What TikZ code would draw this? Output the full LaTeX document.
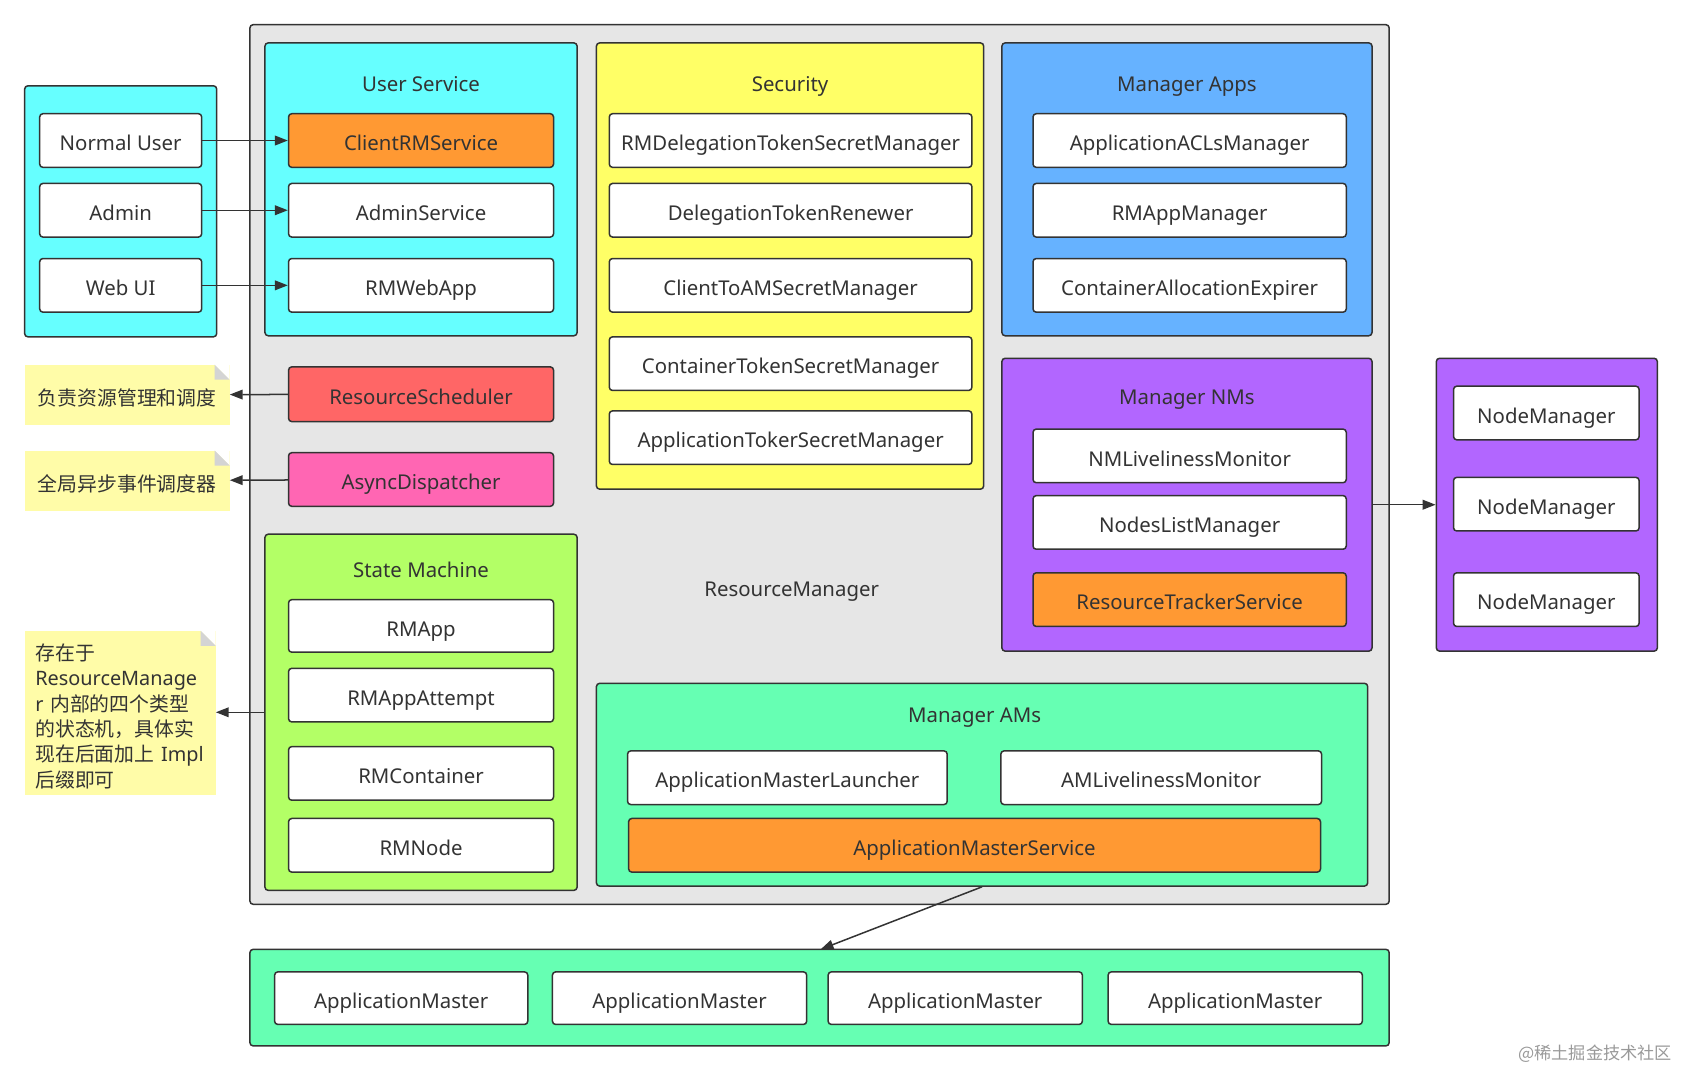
\documentclass[tikz,border=0pt]{standalone}
\usepackage{fontspec}
\setmainfont{Noto Sans}
\newfontfamily\cjk{Noto Sans CJK SC}
\usetikzlibrary{arrows.meta,calc}
\definecolor{rmgray}{HTML}{E6E6E6}
\definecolor{cyanf}{HTML}{66FFFF}
\definecolor{orangef}{HTML}{FF9933}
\definecolor{yellowf}{HTML}{FFFF66}
\definecolor{bluef}{HTML}{66B2FF}
\definecolor{purplef}{HTML}{B266FF}
\definecolor{redf}{HTML}{FF6666}
\definecolor{pinkf}{HTML}{FF66B3}
\definecolor{limef}{HTML}{B3FF66}
\definecolor{mintf}{HTML}{66FFB3}
\definecolor{notef}{HTML}{FFFCA8}
\definecolor{notecorner}{HTML}{D4D4D4}
\definecolor{ink}{HTML}{333333}
\begin{document}
\begin{tikzpicture}[x=1pt,y=-1pt,
  every node/.style={text=ink},
  txt/.style={font=\fontsize{19}{23}\selectfont, text height=19pt, text depth=0pt},
  box/.style={draw=ink, line width=1.4pt, rounded corners=3pt, fill=white, inner sep=0pt, txt},
  group/.style={draw=ink, line width=1.4pt, rounded corners=3pt, inner sep=0pt},
  title/.style={txt, inner sep=0pt},
  arr/.style={draw=ink, line width=1.4pt, -{Triangle[length=12pt,width=9pt]}},
  note/.style={fill=notef, inner xsep=10pt, inner ysep=0pt, font=\cjk\fontsize{18.5}{23.6}\selectfont,
    path picture={
      \fill[white] ([xshift=-14pt]path picture bounding box.north east) -- (path picture bounding box.north east) -- ([yshift=-14pt]path picture bounding box.north east) -- cycle;
      \fill[notecorner] ([xshift=-14pt]path picture bounding box.north east) -- ([xshift=-14pt,yshift=-14pt]path picture bounding box.north east) -- ([yshift=-14pt]path picture bounding box.north east) -- cycle;}}
]
\useasboundingbox (0,0) rectangle (1568,998.4);

% ResourceManager container
\node[group, fill=rmgray, minimum width=1062, minimum height=820] (rm) at (764,433) {};
\node[title] (rmlabel) at (738,547) {ResourceManager};

% Users
\node[group, fill=cyanf, minimum width=179, minimum height=234] (users) at (112.5,197) {};
\node[box, minimum width=151, minimum height=50] (nu) at (112.5,131) {Normal User};
\node[box, minimum width=151, minimum height=50] (ad) at (112.5,196) {Admin};
\node[box, minimum width=151, minimum height=50] (wu) at (112.5,266) {Web UI};

% User Service
\node[group, fill=cyanf, minimum width=291, minimum height=273] (us) at (392.5,176.5) {};
\node[title] (ust) at (392.5,76) {User Service};
\node[box, fill=orangef, minimum width=247, minimum height=50] (crm) at (392.5,131) {ClientRMService};
\node[box, minimum width=247, minimum height=50] (as) at (392.5,196) {AdminService};
\node[box, minimum width=247, minimum height=50] (rwa) at (392.5,266) {RMWebApp};

% Security
\node[group, fill=yellowf, minimum width=361, minimum height=416] (sec) at (736.5,248) {};
\node[title] (sect) at (736.5,76) {Security};
\node[box, minimum width=338, minimum height=50] (s1) at (737,131) {RMDelegationTokenSecretManager};
\node[box, minimum width=338, minimum height=50] (s2) at (737,196) {DelegationTokenRenewer};
\node[box, minimum width=338, minimum height=50] (s3) at (737,266) {ClientToAMSecretManager};
\node[box, minimum width=338, minimum height=50] (s4) at (737,339) {ContainerTokenSecretManager};
\node[box, minimum width=338, minimum height=50] (s5) at (737,408) {ApplicationTokerSecretManager};

% Manager Apps
\node[group, fill=bluef, minimum width=345, minimum height=273] (mapps) at (1106.5,176.5) {};
\node[title] (mappst) at (1106.5,76) {Manager Apps};
\node[box, minimum width=292, minimum height=50] (ma1) at (1109,131) {ApplicationACLsManager};
\node[box, minimum width=292, minimum height=50] (ma2) at (1109,196) {RMAppManager};
\node[box, minimum width=292, minimum height=50] (ma3) at (1109,266) {ContainerAllocationExpirer};

% Manager NMs
\node[group, fill=purplef, minimum width=345, minimum height=273] (mnms) at (1106.5,470.5) {};
\node[title] (mnmst) at (1106.5,368) {Manager NMs};
\node[box, minimum width=292, minimum height=50] (mn1) at (1109,425) {NMLivelinessMonitor};
\node[box, minimum width=292, minimum height=50] (mn2) at (1109,487) {NodesListManager};
\node[box, fill=orangef, minimum width=292, minimum height=50] (mn3) at (1109,559) {ResourceTrackerService};

% NodeManagers
\node[group, fill=purplef, minimum width=206, minimum height=273] (nms) at (1442,470.5) {};
\node[box, minimum width=173, minimum height=50] (nm1) at (1441.5,385) {NodeManager};
\node[box, minimum width=173, minimum height=50] (nm2) at (1441.5,470) {NodeManager};
\node[box, minimum width=173, minimum height=50] (nm3) at (1441.5,559) {NodeManager};

% Scheduler / Dispatcher
\node[box, fill=redf, minimum width=247, minimum height=51] (rs) at (392.5,367.5) {ResourceScheduler};
\node[box, fill=pinkf, minimum width=247, minimum height=50] (adp) at (392.5,447) {AsyncDispatcher};

% State Machine
\node[group, fill=limef, minimum width=291, minimum height=332] (sm) at (392.5,664) {};
\node[title] (smt) at (392.5,529) {State Machine};
\node[box, minimum width=247, minimum height=49] (sm1) at (392.5,583.5) {RMApp};
\node[box, minimum width=247, minimum height=50] (sm2) at (392.5,648) {RMAppAttempt};
\node[box, minimum width=247, minimum height=50] (sm3) at (392.5,721) {RMContainer};
\node[box, minimum width=247, minimum height=50] (sm4) at (392.5,788) {RMNode};

% Manager AMs
\node[group, fill=mintf, minimum width=719, minimum height=189] (mams) at (915.5,731.5) {};
\node[title] (mamst) at (908.5,664) {Manager AMs};
\node[box, minimum width=298, minimum height=50] (aml) at (734,725) {ApplicationMasterLauncher};
\node[box, minimum width=299, minimum height=50] (amlm) at (1082.5,725) {AMLivelinessMonitor};
\node[box, fill=orangef, minimum width=645, minimum height=50] (ams) at (908.5,788) {ApplicationMasterService};

% ApplicationMasters
\node[group, fill=mintf, minimum width=1062, minimum height=90] (amall) at (764,930) {};
\node[box, minimum width=236, minimum height=49] (am1) at (374,930.5) {ApplicationMaster};
\node[box, minimum width=237, minimum height=49] (am2) at (633.5,930.5) {ApplicationMaster};
\node[box, minimum width=237, minimum height=49] (am3) at (890.5,930.5) {ApplicationMaster};
\node[box, minimum width=237, minimum height=49] (am4) at (1151.5,930.5) {ApplicationMaster};

% Notes
\node[note, minimum width=191, minimum height=56] (n1) at (118.5,368) {\rule{0pt}{22pt}负责资源管理和调度};
\node[note, minimum width=191, minimum height=56] (n2) at (118.5,448) {\rule{0pt}{22pt}全局异步事件调度器};
\node[note, text width=158, minimum height=153, align=left] (n3) at (112,664.5)
  {\rule{0pt}{22pt}存在于\\{\rmfamily ResourceManage}\\{\rmfamily r} 内部的四个类型\\的状态机，具体实\\现在后面加上 {\rmfamily Impl}\\后缀即可};

% Connectors
\draw[arr] (nu) -- (crm);
\draw[arr] (ad) -- (as);
\draw[arr] (wu) -- (rwa);
\draw[arr] (rs) -- (n1);
\draw[arr] (adp) -- (n2);
\draw[arr] (sm.west) -- (sm.west -| n3.east);
\draw[arr] (mnms.east) -- (mnms.east -| nms.west);
\coordinate (amin) at (765,885);
\draw[arr] (mams.south) -- (amin);

% Watermark
\node[text=black!40, font=\cjk\fontsize{16}{18}\selectfont] (wm) at (1487,982) {@稀土掘金技术社区};
\end{tikzpicture}
\end{document}
